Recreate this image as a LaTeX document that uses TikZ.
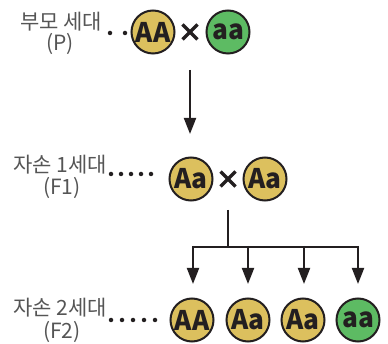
\documentclass[tikz,border=0pt]{standalone}
\usepackage{fontspec}
\setmainfont{Noto Sans CJK KR}
\newfontfamily\krfont{Noto Sans CJK KR}
\usetikzlibrary{arrows.meta,calc}
\definecolor{gold}{HTML}{DCC05E}
\definecolor{leaf}{HTML}{5DBB63}
\definecolor{ink}{HTML}{231F20}
\definecolor{lbl}{HTML}{555555}
\tikzset{
  gene/.style={circle, draw=ink, line width=2pt, minimum size=43pt, inner sep=0pt,
    font=\krfont\bfseries\fontsize{27}{27}\selectfont, text=ink},
  dom/.style={gene, fill=gold},
  rec/.style={gene, fill=leaf},
  lab/.style={font=\krfont\fontsize{21}{22}\selectfont, text=lbl, align=center},
  dot/.style={circle, fill=ink, inner sep=0pt, minimum size=4.5pt},
  cross/.style={ink, line width=3.4pt},
  conn/.style={ink, line width=2pt},
  arr/.style={conn, -{Triangle[width=12pt,length=16pt]}}
}
\newcommand{\gtxt}[1]{\scalebox{0.97}[1]{#1}}
\begin{document}
\begin{tikzpicture}[x=1pt,y=-1pt]
\useasboundingbox (0,0) rectangle (388,344);
% row P
\node[lab] (lp1) at (61,21.5) {부모 세대};
\node[lab] (lp2) at (60,43.5) {(P)};
\node[dot] (dp1) at (110,33) {};
\node[dot] (dp2) at (125,33) {};
\node[dom] (p1) at (153,32) {\gtxt{AA}};
\node[rec] (p2) at (228,32) {\gtxt{aa}};
\coordinate (xp) at (190,32);
\draw[cross] ($(xp)+(-7.5,-7.5)$) -- ($(xp)+(7.5,7.5)$) ($(xp)+(-7.5,7.5)$) -- ($(xp)+(7.5,-7.5)$);
\coordinate (a1) at (190,70);
\coordinate (a2) at (190,134);
\draw[arr] (a1) -- (a2);
% row F1
\node[lab] (l11) at (60,164.5) {자손 1세대};
\node[lab] (l12) at (62,188) {(F1)};
\foreach \i in {0,...,4} \node[dot] (d1\i) at (111+10*\i,174) {};
\node[dom] (f1a) at (191,179) {\gtxt{Aa}};
\node[dom] (f1b) at (265,179) {\gtxt{Aa}};
\coordinate (x1) at (228,179);
\draw[cross] ($(x1)+(-7.5,-7.5)$) -- ($(x1)+(7.5,7.5)$) ($(x1)+(-7.5,7.5)$) -- ($(x1)+(7.5,-7.5)$);
% tree
\coordinate (t0) at (228,210);
\coordinate (tj) at (228,247);
\coordinate (h1) at (193,247);
\coordinate (h4) at (358,247);
\draw[conn] (t0) -- (tj);
\draw[conn] (h1) -- (h4);
% row F2
\node[lab] (l21) at (60,308) {자손 2세대};
\node[lab] (l22) at (62,332) {(F2)};
\foreach \i in {0,...,4} \node[dot] (d2\i) at (111+11*\i,320) {};
\node[dom] (g1) at (192,320) {\gtxt{AA}};
\node[dom] (g2) at (248,320) {\gtxt{Aa}};
\node[dom] (g3) at (303,320) {\gtxt{Aa}};
\node[rec] (g4) at (358,320) {\gtxt{aa}};
\foreach \n/\x in {g1/193,g2/248,g3/304,g4/358}{
  \coordinate (s\n) at (\x,246);
  \coordinate (e\n) at (\x,284);
  \draw[arr] (s\n) -- (e\n);
}
\end{tikzpicture}
\end{document}
